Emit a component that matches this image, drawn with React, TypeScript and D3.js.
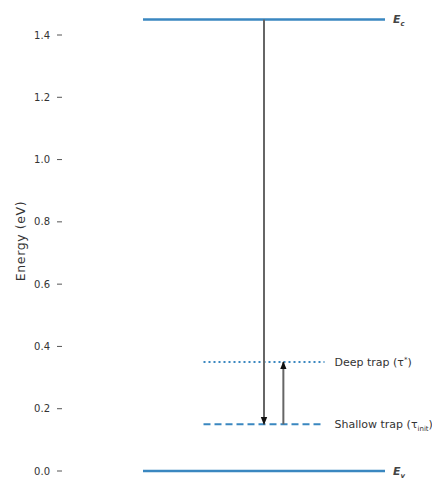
import React from "react";
import * as d3 from "d3";

const yTicks = [0.0, 0.2, 0.4, 0.6, 0.8, 1.0, 1.2, 1.4];
const bandNames = ["Ec", "Ev"];
const bandEnergies = [1.45, 0.0];
const trapNames = ["Deep trap", "Shallow trap"];
const trapEnergies = [0.35, 0.15];
const trapStyles = ["dotted", "dashed"];
// transitions: [x, from energy, to energy]
const arrowX = [0.5, 0.58];
const arrowFrom = [1.45, 0.15];
const arrowTo = [0.15, 0.35];

const W = 432;
const H = 480;

export default function App() {
  const x = d3.scaleLinear().domain([0, 1]).range([143, 385]);
  const y = d3.scaleLinear().domain([0, 1.4]).range([471, 35]);
  const blue = "#3a87c0";
  const font = "DejaVu Sans, sans-serif";

  return (
    <svg width={W} height={H} style={{ position: "absolute", left: 0, top: 0, background: "#fff" }}>
      <defs>
        <marker id="ah" viewBox="0 0 10 10" refX="9" refY="5" markerWidth="4" markerHeight="4" orient="auto">
          <path d="M0,1 L10,5 L0,9 z" fill="#111" />
        </marker>
      </defs>
      {/* y axis ticks */}
      {yTicks.map((t) => (
        <g key={t}>
          <text x={50} y={y(t)} dy="0.35em" textAnchor="end" fontSize={10} fontFamily={font} fill="#333">
            {d3.format(".1f")(t)}
          </text>
          <line x1={57} x2={62} y1={y(t)} y2={y(t)} stroke="#555" strokeWidth={1} />
        </g>
      ))}
      <text
        transform={`translate(25,241) rotate(-90)`}
        textAnchor="middle"
        fontSize={12.5}
        letterSpacing={0.6}
        fontFamily={font}
        fill="#333"
      >
        Energy (eV)
      </text>
      {/* bands */}
      {bandNames.map((n, i) => (
        <g key={n}>
          <line x1={x(0)} x2={x(1)} y1={y(bandEnergies[i])} y2={y(bandEnergies[i])} stroke={blue} strokeWidth={2.5} />
          <text x={x(1) + 8} y={y(bandEnergies[i])} dy="0.35em" fontSize={11} fontStyle="italic" fontWeight="bold" fontFamily={font} fill="#444">
            E<tspan fontSize={7} dy="3">{n === "Ec" ? "c" : "v"}</tspan>
          </text>
        </g>
      ))}
      {/* traps */}
      {trapNames.map((n, i) => (
        <g key={n}>
          <line
            x1={x(0.25)}
            x2={x(0.75)}
            y1={y(trapEnergies[i])}
            y2={y(trapEnergies[i])}
            stroke={blue}
            strokeWidth={2}
            strokeDasharray={trapStyles[i] === "dotted" ? "2,3" : "7,4"}
          />
          <text x={x(0.75) + 10} y={y(trapEnergies[i])} dy="0.35em" fontSize={11} fontFamily={font} fill="#333">
            {n} (τ
            {i === 0 ? (
              <tspan fontSize={7} dy="-4">*</tspan>
            ) : (
              <tspan fontSize={7} dy="3">init</tspan>
            )}
            <tspan dy={i === 0 ? 4 : -3}>)</tspan>
          </text>
        </g>
      ))}
      {/* arrows */}
      {arrowX.map((ax, i) => (
        <line
          key={i}
          x1={x(ax)}
          x2={x(ax)}
          y1={y(arrowFrom[i])}
          y2={y(arrowTo[i])}
          stroke="#666"
          strokeWidth={2}
          markerEnd="url(#ah)"
        />
      ))}
    </svg>
  );
}
